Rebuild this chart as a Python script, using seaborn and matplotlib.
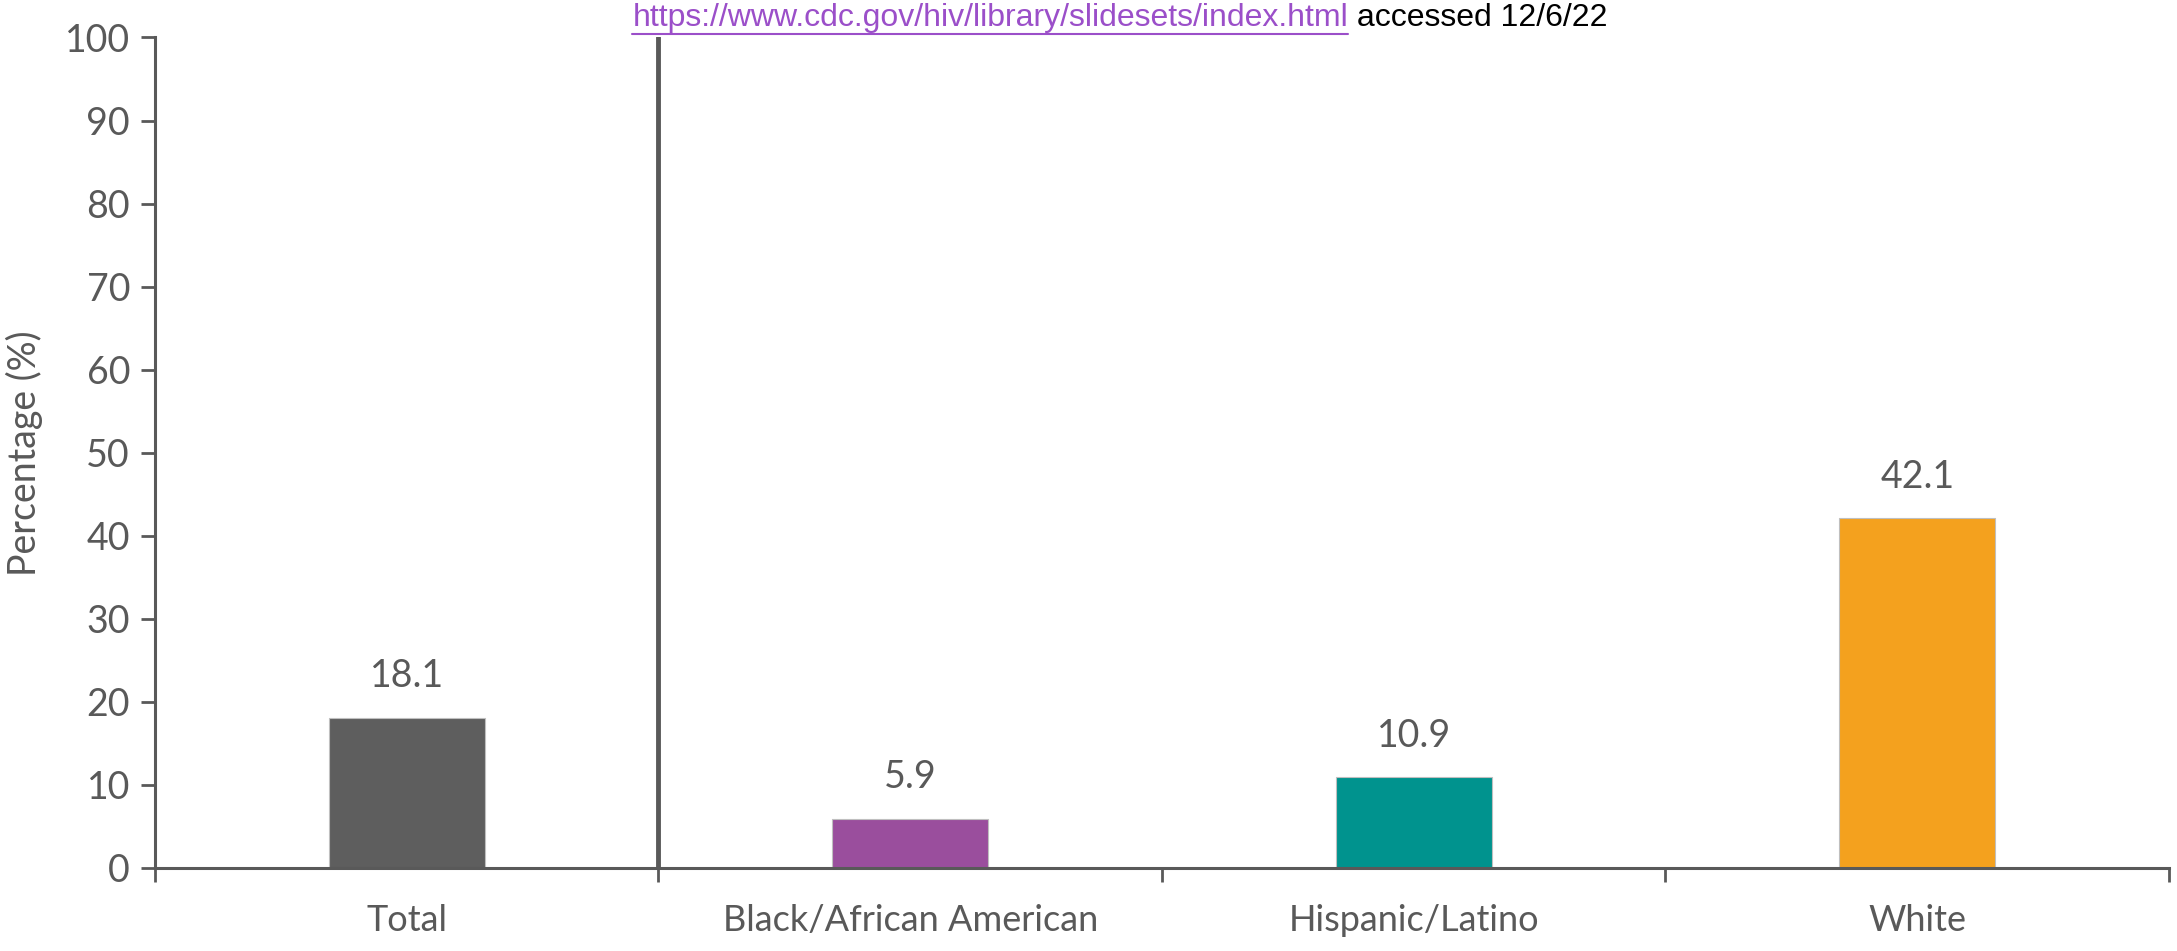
import matplotlib
matplotlib.use("Agg")
import matplotlib.pyplot as plt
import seaborn as sns
import pandas as pd
from matplotlib.lines import Line2D

categories = ["Total", "Black/African American", "Hispanic/Latino", "White"]
values = [18.1, 5.9, 10.9, 42.1]
colors = ["#5E5E5E", "#9A4E9D", "#00938E", "#F4A11E"]
yticks = [0, 10, 20, 30, 40, 50, 60, 70, 80, 90, 100]
url_text = "https://www.cdc.gov/hiv/library/slidesets/index.html"
accessed_text = " accessed 12/6/22"
ylabel = "Percentage (%)"

sns.set_theme(style="white")
plt.rcParams['font.family'] = ['Lato', 'DejaVu Sans']

gray = "#595959"
df = pd.DataFrame({"cat": categories, "val": values})

fig = plt.figure(figsize=(21.77, 9.51), dpi=100)
ax = fig.add_axes([0.0712, 0.0873, 0.9251, 0.8733])

sns.barplot(data=df, x="cat", y="val", hue="cat", palette=colors, width=0.31,
            legend=False, ax=ax, edgecolor="#BFBFBF", linewidth=0.8, saturation=1)

ax.set_xlim(-0.5, 3.5)
ax.set_ylim(0, 100)
ax.set_yticks(yticks)
ax.set_yticklabels([str(t) for t in yticks], fontsize=27, color=gray)

# major ticks at category boundaries, labels at centres (minor)
ax.set_xticks([-0.5, 0.5, 1.5, 2.5, 3.5])
ax.set_xticklabels([])
ax.set_xticks(range(len(categories)), minor=True)
ax.set_xticklabels(categories, minor=True, fontsize=26, color=gray)
ax.tick_params(axis="x", which="major", direction="out", length=10, width=2, color=gray, bottom=True)
ax.tick_params(axis="x", which="minor", length=0, pad=26, bottom=True)
ax.tick_params(axis="y", direction="out", length=10, width=2, color=gray, left=True, pad=8)

for s in ["top", "right"]:
    ax.spines[s].set_visible(False)
for s in ["left", "bottom"]:
    ax.spines[s].set_color(gray)
    ax.spines[s].set_linewidth(2.2)

ax.set_xlabel("")
ax.set_ylabel(ylabel, fontsize=27, color=gray, labelpad=16)

# separator between Total and groups
ax.axvline(0.5, ymin=0, ymax=1, color=gray, linewidth=3.5, zorder=5)

for i, v in enumerate(values):
    ax.annotate(f"{v}", (i, v), xytext=(0, 17), textcoords="offset points",
                ha="center", va="bottom", fontsize=27, color=gray)

# source text at top
t1 = fig.text(0.2905, 0.9725, url_text, fontsize=23, color="#9B4FC9",
              family=["Liberation Sans", "DejaVu Sans"], ha="left", va="baseline")
fig.canvas.draw()
bb = t1.get_window_extent()
fw, fh = fig.bbox.width, fig.bbox.height
x0, x1 = bb.x0 / fw, bb.x1 / fw
yl = (bb.y0 - 1) / fh
fig.add_artist(Line2D([x0, x1], [yl, yl], color="#9B4FC9", linewidth=1.5, transform=fig.transFigure))
fig.text(x1, 0.9725, accessed_text, fontsize=23, color="black",
         family=["Liberation Sans", "DejaVu Sans"], ha="left", va="baseline")

fig.savefig("out.png", dpi=100)
